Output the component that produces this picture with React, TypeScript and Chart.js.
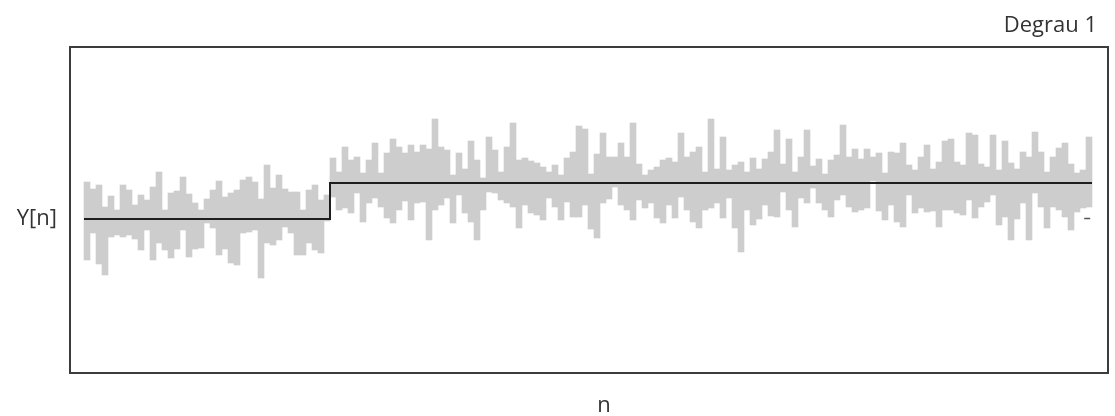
import React, { useEffect, useRef } from 'react';
import { Chart, registerables } from 'chart.js';

Chart.register(...registerables);

// Noise envelope per sample column (upper and lower extent), in signal units
const hiValues = [
  37, 30, 34, 12, 23, 9, 34, 29, 14, 24, 19, 32, 47, 9, 26, 28, 42, 25, 16, 9, 20, 29, 38, 22, 26, 29, 39, 42,
  37, 20, 54, 31, 44, 30, 27, 27, 9, 29, 34, 19, 24, 61, 47, 72, 59, 62, 46, 59, 76, 46, 66, 80, 72, 66, 74, 67,
  74, 70, 100, 72, 69, 44, 66, 50, 78, 59, 41, 82, 69, 47, 72, 96, 59, 61, 58, 56, 52, 47, 54, 44, 61, 67, 93, 90,
  45, 65, 86, 62, 62, 76, 62, 96, 55, 44, 49, 52, 59, 61, 57, 86, 62, 67, 72, 47, 100, 50, 82, 49, 54, 57, 47, 61,
  50, 60, 67, 89, 55, 80, 47, 62, 89, 53, 60, 45, 59, 64, 94, 62, 70, 60, 70, 62, 66, 46, 67, 66, 76, 54, 49, 62,
  74, 50, 57, 78, 80, 57, 54, 86, 84, 55, 52, 84, 49, 78, 56, 50, 67, 62, 87, 67, 47, 62, 71, 76, 55, 46, 49, 82,
];
const loValues = [
  -41, -14, -45, -56, -18, -16, -18, -16, -20, -31, -11, -41, -24, -31, -39, -30, -11, -38, -30, -29, -4, -9, -36, -30, -44, -46, -14, -13,
  -11, -59, -24, -26, -21, -8, -14, -36, -36, -24, -31, -34, -2, 22, 9, 11, 6, 26, -3, 16, 21, 12, 1, -4, 9, 18, -1, 16,
  17, -21, 9, 14, 21, -4, 24, 6, -3, -21, 9, 27, 26, 19, 16, 12, -9, 14, 6, 4, -1, 21, 12, -1, 17, 2, 2, 14,
  -10, -19, 16, 20, 32, 14, 9, -1, 19, 11, 16, 1, -4, 14, 1, 22, 9, -3, -9, 9, 11, 16, 1, 21, -9, -33, 9, -6,
  0, 14, 3, 2, 27, 9, -8, 21, 16, 31, 16, 9, 2, 19, 24, 12, 7, 9, 11, 38, 8, -1, 14, -3, -8, 24, 6, 11,
  7, 8, -8, 9, 9, 6, 4, 19, 1, 12, 17, 24, -6, 2, -21, 0, 16, -21, 26, 12, -9, 12, 9, 2, -11, 7, 11, 12,
];

// Step input (degrau)
const stepX = [0, 41, 41, 168];
const stepY = [0, 0, 36, 36];

// Small dash at the right end
const markerX = [167.2];
const markerY = [0.5];

const titleText = 'Degrau 1';
const yAxisLabel = 'Y[n]';
const xAxisLabel = 'n';

export default function App() {
  const ref = useRef<HTMLCanvasElement>(null);

  useEffect(() => {
    document.body.style.margin = '0';
    const canvas = ref.current;
    if (!canvas) return;

    const frame = {
      id: 'frameAndLabels',
      afterDraw(chart: any) {
        const { ctx, chartArea: a } = chart;
        ctx.save();
        ctx.strokeStyle = '#3c3c3c';
        ctx.lineWidth = 2;
        ctx.strokeRect(a.left, a.top, a.right - a.left, a.bottom - a.top);
        ctx.fillStyle = '#333333';
        ctx.font = '22px "Open Sans"';
        ctx.textBaseline = 'alphabetic';
        ctx.textAlign = 'right';
        ctx.fillText(titleText, a.right - 11, a.top - 15);
        ctx.fillText(yAxisLabel, a.left - 13, 225);
        ctx.textAlign = 'center';
        ctx.fillText(xAxisLabel, a.left + 534, a.bottom + 39);
        ctx.restore();
      },
    };

    const chart = new Chart(canvas, {
      type: 'bar',
      data: {
        datasets: [
          {
            type: 'line',
            data: stepX.map((x, i) => ({ x, y: stepY[i] })),
            borderColor: '#1e1e1e',
            borderWidth: 2,
            pointRadius: 0,
            tension: 0,
            fill: false,
            order: 0,
          } as any,
          {
            type: 'scatter',
            data: markerX.map((x, i) => ({ x, y: markerY[i] })),
            pointStyle: 'line',
            pointRadius: 3,
            borderColor: '#555555',
            borderWidth: 1.5,
            order: 0,
          } as any,
          {
            type: 'bar',
            data: hiValues.map((h, i) => ({ x: i + 0.5, y: [loValues[i], h] })),
            backgroundColor: '#cdcdcd',
            borderWidth: 0,
            barPercentage: 1,
            categoryPercentage: 1,
            grouped: false,
            order: 1,
          } as any,
        ],
      },
      options: {
        animation: false,
        responsive: false,
        devicePixelRatio: 1,
        layout: { padding: { left: 70, right: 7, top: 47, bottom: 43 } },
        plugins: {
          legend: { display: false },
          tooltip: { enabled: false },
          title: { display: false },
        },
        scales: {
          x: {
            type: 'linear',
            min: -14 / 6,
            max: 168 + 16 / 6,
            offset: false,
            display: false,
          },
          y: {
            type: 'linear',
            min: -154,
            max: 172,
            display: false,
          },
        },
      },
      plugins: [frame],
    } as any);

    return () => chart.destroy();
  }, []);

  return (
    <div style={{ width: 1115, height: 416 }}>
      <canvas ref={ref} width={1115} height={416} style={{ display: 'block' }} />
    </div>
  );
}
